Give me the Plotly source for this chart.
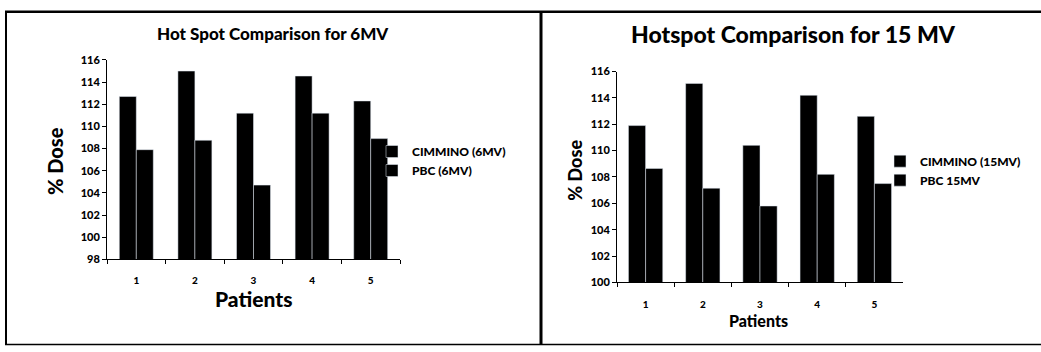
import plotly.graph_objects as go

# ---------------- data ----------------
patients = ["1", "2", "3", "4", "5"]
cimmino_6mv = [112.7, 115.0, 111.2, 114.55, 112.3]
pbc_6mv = [107.9, 108.75, 104.7, 111.2, 108.9]
cimmino_15mv = [111.9, 115.1, 110.4, 114.2, 112.6]
pbc_15mv = [108.65, 107.15, 105.8, 108.2, 107.5]
ticks_6mv = [98, 100, 102, 104, 106, 108, 110, 112, 114, 116]
ticks_15mv = [100, 102, 104, 106, 108, 110, 112, 114, 116]

W, H = 1041, 352
FONT = "Lato"
WEIGHT = 900


def px(x):
    return x / W


def py(y):
    return 1 - y / H


fig = go.Figure()

w6 = 0.29
w15 = 0.30
fig.add_trace(go.Bar(x=patients, y=cimmino_6mv, name="CIMMINO (6MV)", marker_color="black",
                     width=w6, offset=-w6, xaxis="x", yaxis="y", legend="legend"))
fig.add_trace(go.Bar(x=patients, y=pbc_6mv, name="PBC (6MV)", marker_color="black",
                     width=w6, offset=0, xaxis="x", yaxis="y", legend="legend"))
fig.add_trace(go.Bar(x=patients, y=cimmino_15mv, name="CIMMINO (15MV)", marker_color="black",
                     width=w15, offset=-w15, xaxis="x2", yaxis="y2", legend="legend2"))
fig.add_trace(go.Bar(x=patients, y=pbc_15mv, name="PBC 15MV", marker_color="black",
                     width=w15, offset=0, xaxis="x2", yaxis="y2", legend="legend2"))

tickfont = dict(family=FONT, size=11, color="black", weight=WEIGHT)
xtickfont = dict(family=FONT, size=10, color="black", weight=WEIGHT)
common_x = dict(type="category", showline=True, linecolor="black", linewidth=1,
                ticks="outside", ticklen=4, tickcolor="black", tickson="boundaries",
                tickfont=xtickfont, showgrid=False, zeroline=False, fixedrange=True)
common_y = dict(showline=True, linecolor="black", linewidth=1, ticks="outside",
                ticklen=4, tickcolor="black", tickfont=tickfont, showgrid=False,
                zeroline=False, fixedrange=True)

fig.update_layout(
    width=W, height=H, autosize=False,
    margin=dict(l=0, r=0, t=0, b=0),
    paper_bgcolor="white", plot_bgcolor="white",
    barmode="group",
    xaxis=dict(domain=[px(107), px(400)], anchor="y", ticklabelstandoff=12, **common_x),
    yaxis=dict(domain=[py(262), py(55)], anchor="x", range=[98, 116],
               tickvals=ticks_6mv, ticktext=[str(t) for t in ticks_6mv], **common_y),
    xaxis2=dict(domain=[px(617), px(903)], anchor="y2", ticklabelstandoff=13, **common_x),
    yaxis2=dict(domain=[py(286), py(67)], anchor="x2", range=[100, 116],
                tickvals=ticks_15mv, ticktext=[str(t) for t in ticks_15mv], **common_y),
    legend=dict(x=px(372), y=py(135), xanchor="left", yanchor="top",
                font=dict(family=FONT, size=12, color="black", weight=WEIGHT),
                bgcolor="rgba(0,0,0,0)", itemwidth=30, tracegroupgap=4),
    legend2=dict(x=px(880), y=py(145), xanchor="left", yanchor="top",
                 font=dict(family=FONT, size=12, color="black", weight=WEIGHT),
                 bgcolor="rgba(0,0,0,0)", itemwidth=30),
    showlegend=True,
)

annotations = [
    dict(text="Hot Spot Comparison for 6MV", x=px(273), y=py(27), font=dict(size=17)),
    dict(text="Hotspot Comparison for 15 MV", x=px(793), y=py(28), font=dict(size=23)),
    dict(text="% Dose", x=px(55), y=py(160), textangle=-90, font=dict(size=20)),
    dict(text="% Dose", x=px(575), y=py(170), textangle=-90, font=dict(size=18)),
    dict(text="Patients", x=px(253), y=py(303), font=dict(size=21)),
    dict(text="Patients", x=px(758), y=py(326), font=dict(size=16)),
]
for a in annotations:
    a.update(xref="paper", yref="paper", showarrow=False, xanchor="center", yanchor="middle")
    a["font"].update(family=FONT, color="black", weight=WEIGHT)
fig.update_layout(annotations=annotations)

# panel borders
shapes = [
    dict(type="line", x0=px(5), x1=1, y0=py(5), y1=py(5), line=dict(color="black", width=2.5)),
    dict(type="line", x0=px(6), x1=px(6), y0=py(5), y1=py(351), line=dict(color="black", width=2)),
    dict(type="line", x0=px(541), x1=px(541), y0=py(5), y1=py(351), line=dict(color="black", width=3)),
    dict(type="line", x0=px(5), x1=1, y0=py(350.5), y1=py(350.5), line=dict(color="black", width=1.5)),
]
for s in shapes:
    s.update(xref="paper", yref="paper")
fig.update_layout(shapes=shapes)

fig.write_html("out.html")
